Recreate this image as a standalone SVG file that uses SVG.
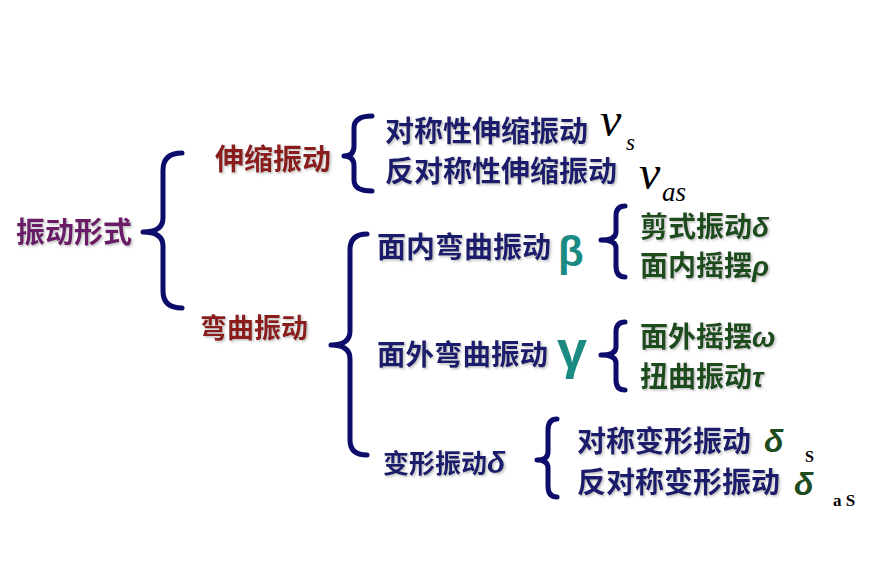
<svg xmlns="http://www.w3.org/2000/svg" width="877" height="585" viewBox="0 0 877 585">
<defs>
<filter id="sh" x="-10%" y="-20%" width="130%" height="150%">
<feDropShadow dx="1.5" dy="1.5" stdDeviation="0.8" flood-color="#8a8a8a" flood-opacity="0.55"/>
</filter>
</defs>
<style>
.cjk{font-family:"Noto Sans CJK SC","Noto Sans",sans-serif;font-weight:700;filter:url(#sh)}
.purple{fill:#6a1a68}
.red{fill:#8a1c1c}
.navy{fill:#1c1c6c}
.green{fill:#1e4c1e}
.teal{fill:#1a8a82;font-family:"Liberation Sans",Arial,sans-serif;font-weight:700}
.gk{font-family:"Liberation Sans",Arial,sans-serif;font-weight:700;font-style:italic}
.nu{font-family:"Liberation Serif","Times New Roman",serif;font-style:italic;fill:#000}
.sub{font-family:"Liberation Serif","Times New Roman",serif;font-weight:700;fill:#000}
.brace{fill:none;stroke:#0c0c6a;stroke-width:5;stroke-linecap:round;stroke-linejoin:round}
</style>
<rect width="877" height="585" fill="#fff"/>
<g id="connectors">
<path class="brace" d="M182,153 Q163,153 163,170 L163,218 Q163,232 143,232 Q163,232 163,246 L163,291 Q163,308 182,308"/>
<path class="brace" d="M372,116 Q354,116 354,128 L354,146 Q354,156 344,156 Q354,156 354,166 L354,180 Q354,191 372,191"/>
<path class="brace" d="M367,234 Q350,234 350,250 L350,331 Q350,345 331,345 Q350,345 350,359 L350,440 Q350,455 367,455"/>
<path class="brace" d="M625,206 Q616,206 616,216 L616,232 Q616,240 601,240 Q616,240 616,248 L616,266 Q616,277 625,277"/>
<path class="brace" d="M625,322 Q616,322 616,332 L616,347 Q616,355 601,355 Q616,355 616,363 L616,380 Q616,390 625,390"/>
<path class="brace" d="M557,419 Q548,419 548,430 L548,452 Q548,460 537,460 Q548,460 548,468 L548,486 Q548,497 557,497"/>
</g>
<g id="root"><text class="cjk purple" x="16" y="243" font-size="29">振动形式</text></g>
<g id="stretch"><text class="cjk red" x="215" y="170" font-size="29">伸缩振动</text></g>
<g id="bend"><text class="cjk red" x="200" y="338" font-size="27">弯曲振动</text></g>
<g id="sym-stretch">
<text class="cjk navy" x="385" y="142" font-size="29">对称性伸缩振动</text>
<text class="nu" x="600" y="136" font-size="48">ν</text>
<text class="nu" x="626" y="150" font-size="23">s</text>
</g>
<g id="asym-stretch">
<text class="cjk navy" x="385" y="182" font-size="29">反对称性伸缩振动</text>
<text class="nu" x="639" y="189" font-size="48">ν</text>
<text class="nu" x="662" y="201" font-size="27">as</text>
</g>
<g id="in-plane">
<text class="cjk navy" x="377" y="258" font-size="29">面内弯曲振动</text>
<text class="teal" x="558" y="266" font-size="42">β</text>
</g>
<g id="scissor"><text class="cjk green" x="640" y="237" font-size="28">剪式振动<tspan class="gk" font-size="28">δ</tspan></text></g>
<g id="rock"><text class="cjk green" x="640" y="276" font-size="28">面内摇摆<tspan class="gk" font-size="28">ρ</tspan></text></g>
<g id="out-plane">
<text class="cjk navy" x="377" y="365" font-size="28.5">面外弯曲振动</text>
<text class="teal" x="557" y="368" font-size="54">γ</text>
</g>
<g id="wag"><text class="cjk green" x="640" y="347" font-size="28">面外摇摆<tspan class="gk" font-size="28">ω</tspan></text></g>
<g id="twist"><text class="cjk green" x="640" y="387" font-size="28">扭曲振动<tspan class="gk" font-size="28">τ</tspan></text></g>
<g id="deform"><text class="cjk navy" x="383" y="473" font-size="26">变形振动<tspan class="gk" font-size="30">δ</tspan></text></g>
<g id="sym-deform">
<text class="cjk navy" x="577" y="452" font-size="29">对称变形振动</text>
<text class="gk green" x="764" y="452" font-size="32">δ</text>
<text class="sub" x="805" y="462" font-size="16">S</text>
</g>
<g id="asym-deform">
<text class="cjk navy" x="577" y="493" font-size="29">反对称变形振动</text>
<text class="gk green" x="794" y="495" font-size="32">δ</text>
<text class="sub" x="833" y="506" font-size="17">a S</text>
</g>
</svg>
